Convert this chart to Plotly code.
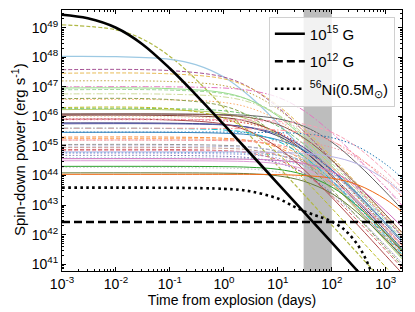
import plotly.graph_objects as go

# ---------------- data (log10 of spin-down power, erg/s) ----------------
t_grid = [0.001, 0.1, 1, 3, 10, 30, 100, 300, 1000, 2000]

magnetar_log_power = [
    [47.58, 47.55, 47.33, 46.98, 46.31, 45.50, 44.51, 43.57, 42.53, 41.93],
    [47.46, 47.44, 47.27, 46.97, 46.37, 45.60, 44.63, 43.70, 42.66, 42.06],
    [47.20, 47.18, 47.04, 46.79, 46.25, 45.51, 44.56, 43.63, 42.59, 41.99],
    [47.00, 47.00, 46.96, 46.88, 46.65, 46.20, 45.44, 44.59, 43.59, 42.99],
    [46.96, 46.94, 46.80, 46.55, 46.01, 45.27, 44.32, 43.39, 42.35, 41.75],
    [46.90, 46.89, 46.77, 46.55, 46.05, 45.34, 44.41, 43.49, 42.45, 41.85],
    [46.76, 46.75, 46.66, 46.48, 46.06, 45.41, 44.50, 43.59, 42.56, 41.96],
    [46.57, 46.56, 46.47, 46.29, 45.87, 45.22, 44.31, 43.40, 42.37, 41.77],
    [46.27, 46.26, 46.19, 46.04, 45.67, 45.07, 44.19, 43.29, 42.26, 41.66],
    [46.23, 46.22, 46.10, 45.88, 45.38, 44.67, 43.74, 42.82, 41.78, 41.18],
    [46.08, 46.08, 46.06, 46.03, 45.92, 45.67, 45.13, 44.39, 43.44, 42.85],
    [46.08, 46.08, 46.04, 45.96, 45.73, 45.28, 44.52, 43.67, 42.67, 42.07],
    [46.04, 46.03, 45.96, 45.81, 45.44, 44.84, 43.96, 43.06, 42.03, 41.43],
    [45.91, 45.90, 45.85, 45.75, 45.47, 44.96, 44.14, 43.27, 42.25, 41.65],
    [45.88, 45.88, 45.87, 45.85, 45.78, 45.60, 45.18, 44.53, 43.62, 43.05],
    [45.78, 45.77, 45.72, 45.62, 45.34, 44.83, 44.01, 43.14, 42.12, 41.52],
    [45.75, 45.75, 45.71, 45.63, 45.40, 44.95, 44.19, 43.34, 42.34, 41.74],
    [45.47, 45.47, 45.47, 45.46, 45.45, 45.41, 45.28, 44.98, 44.38, 43.91],
    [45.46, 45.46, 45.43, 45.38, 45.21, 44.86, 44.19, 43.38, 42.39, 41.80],
    [45.30, 45.30, 45.26, 45.18, 44.95, 44.50, 43.74, 42.89, 41.89, 41.29],
    [45.25, 45.25, 45.22, 45.17, 45.00, 44.65, 43.98, 43.17, 42.18, 41.59],
    [45.20, 45.20, 45.18, 45.15, 45.04, 44.79, 44.25, 43.51, 42.56, 41.97],
    [45.05, 45.05, 45.02, 44.97, 44.80, 44.45, 43.78, 42.97, 41.98, 41.39],
    [45.00, 45.00, 44.98, 44.95, 44.84, 44.59, 44.05, 43.31, 42.36, 41.77],
    [44.95, 44.95, 44.92, 44.87, 44.70, 44.35, 43.68, 42.87, 41.88, 41.29],
    [44.88, 44.88, 44.84, 44.76, 44.53, 44.08, 43.32, 42.47, 41.47, 40.87],
    [44.85, 44.85, 44.83, 44.80, 44.69, 44.44, 43.90, 43.16, 42.21, 41.62],
    [44.80, 44.80, 44.80, 44.80, 44.78, 44.75, 44.64, 44.39, 43.85, 43.40],
    [44.78, 44.78, 44.77, 44.75, 44.68, 44.50, 44.08, 43.43, 42.52, 41.95],
    [44.75, 44.75, 44.73, 44.70, 44.59, 44.34, 43.80, 43.06, 42.11, 41.52],
    [44.68, 44.68, 44.65, 44.60, 44.43, 44.08, 43.41, 42.60, 41.61, 41.02],
    [44.60, 44.60, 44.59, 44.57, 44.50, 44.32, 43.90, 43.25, 42.34, 41.77],
    [44.57, 44.57, 44.56, 44.55, 44.51, 44.41, 44.13, 43.62, 42.80, 42.26],
    [44.50, 44.50, 44.49, 44.47, 44.40, 44.22, 43.80, 43.15, 42.24, 41.67],
    [44.31, 44.31, 44.30, 44.28, 44.21, 44.03, 43.61, 42.96, 42.05, 41.48],
    [44.27, 44.27, 44.25, 44.22, 44.11, 43.86, 43.32, 42.58, 41.63, 41.04],
    [44.09, 44.09, 44.08, 44.06, 43.99, 43.81, 43.39, 42.74, 41.83, 41.26],
    [44.04, 44.04, 44.04, 44.04, 44.03, 44.00, 43.91, 43.69, 43.19, 42.77],
    [46.60, 46.57, 46.35, 46.00, 45.33, 44.52, 43.53, 42.59, 41.55, 40.95],
    [46.30, 46.26, 45.95, 45.50, 44.74, 43.89, 42.89, 41.94, 40.90, 40.30],
    [45.90, 45.88, 45.74, 45.49, 44.95, 44.21, 43.26, 42.33, 41.29, 40.69],
    [45.60, 45.59, 45.54, 45.44, 45.16, 44.65, 43.83, 42.96, 41.94, 41.34],
    [46.00, 45.99, 45.92, 45.77, 45.40, 44.80, 43.92, 43.02, 41.99, 41.39],
    [45.90, 45.90, 45.89, 45.88, 45.84, 45.74, 45.46, 44.95, 44.13, 43.59],
    [45.20, 45.20, 45.20, 45.19, 45.17, 45.12, 44.95, 44.60, 43.93, 43.43],
    [45.60, 45.60, 45.59, 45.58, 45.54, 45.44, 45.16, 44.65, 43.83, 43.29],
]

magnetar_colors = [
    "#a55194", "#e7ba52", "#bd9e39", "#e377c2", "#98df8a", "#a1d99b", "#cedb9c",
    "#fdae6b", "#74c476", "#b5cf6b", "#636363", "#8c564b", "#843c39", "#d62728",
    "#f7b6d2", "#393b79", "#5254a3", "#1f77b4", "#3182bd", "#fd8d3c", "#fdae6b",
    "#ff9896", "#969696", "#bcbddc", "#c49c94", "#d6616b", "#e7969c", "#b8b3e6",
    "#6baed6", "#9c9ede", "#756bb1", "#9edae5", "#ce6dbd", "#de9ed6", "#2ca02c",
    "#c7c7c7", "#637939", "#f16913", "#8ca252", "#bcbd22", "#ad494a", "#17becf",
    "#e7cb94", "#fa9fb5", "#e7969c", "#ff9896",
]

magnetar_styles = [
    "dash", "dash", "dot", "dashdot", "solid", "dash", "dashdot",
    "dot", "dash", "solid", "solid", "solid", "solid", "dot",
    "dot", "solid", "solid", "dot", "solid", "dash", "dash",
    "dash", "dash", "dash", "dash", "dash", "dash", "solid",
    "dot", "dot", "dot", "dot", "solid", "solid", "solid",
    "dot", "solid", "solid", "dash", "dash", "solid", "dashdot",
    "dot", "dash", "dot", "dashdot",
]

olive_t = [0.001, 0.01, 0.03, 0.1, 0.3, 1, 3, 10, 30, 100, 300, 1000]
olive_log_power = [49.10, 48.93, 48.63, 48.03, 47.26, 46.29, 45.36, 44.32, 43.37, 42.32, 41.37, 40.32]

lightblue_t = [0.001, 0.01, 0.1, 0.3, 1, 3, 10, 30, 100, 300, 1000, 2000]
lightblue_log_power = [48.03, 48.02, 47.93, 47.75, 47.33, 46.68, 45.77, 44.86, 43.83, 42.88, 41.84, 41.23]

b15_t = [0.001, 0.003, 0.01, 0.03, 0.1, 0.3, 1, 10, 100, 300, 500]
b15_log_power = [49.44, 49.32, 49.00, 48.46, 47.62, 46.74, 45.72, 43.73, 41.73, 40.77, 40.33]

b12_t = [0.001, 2000]
b12_log_power = [42.43, 42.43]

ni_t = [0.001, 1, 3, 10, 20, 30, 50, 70, 100, 150, 200, 300, 400, 500, 600]
ni_log_power = [43.59, 43.55, 43.47, 43.22, 42.95, 42.80, 42.65, 42.56, 42.44, 42.25, 42.05, 41.66, 41.27, 40.88, 40.49]

band_days = [30, 100]
x_tick_exp = [-3, -2, -1, 0, 1, 2, 3]
y_tick_exp = [41, 42, 43, 44, 45, 46, 47, 48, 49]

# ---------------- figure ----------------
DASHES = {"solid": "solid", "dash": "4px,2px", "dot": "1.5px,2px", "dashdot": "6px,2px,1.5px,2px"}
FONT = "Liberation Sans, Arial"

fig = go.Figure()

def pw(vals):
    return [10.0 ** v for v in vals]

fig.add_trace(go.Scatter(x=olive_t, y=pw(olive_log_power), mode="lines", showlegend=False,
                         line=dict(color="#b0b845", width=1.2, dash=DASHES["dash"], shape="spline")))
fig.add_trace(go.Scatter(x=lightblue_t, y=pw(lightblue_log_power), mode="lines", showlegend=False,
                         line=dict(color="#9dc9e3", width=1.2, shape="spline")))
for vals, col, sty in zip(magnetar_log_power, magnetar_colors, magnetar_styles):
    fig.add_trace(go.Scatter(x=t_grid, y=pw(vals), mode="lines", showlegend=False,
                             line=dict(color=col, width=1.0, dash=DASHES[sty], shape="spline")))

fig.add_trace(go.Scatter(x=b15_t, y=pw(b15_log_power), mode="lines", name="10<sup>15</sup> G",
                         legendgroup="a", line=dict(color="black", width=2.6, shape="spline")))
fig.add_trace(go.Scatter(x=b12_t, y=pw(b12_log_power), mode="lines", name="10<sup>12</sup> G",
                         legendgroup="b", line=dict(color="black", width=2.6, dash="8px,4px")))
fig.add_trace(go.Scatter(x=ni_t, y=pw(ni_log_power), mode="lines",
                         name="<sup>56</sup>Ni(0.5M<sub>⊙</sub>)",
                         legendgroup="c", line=dict(color="black", width=2.6, dash="2.6px,3.4px", shape="spline")))

fig.add_shape(type="rect", xref="x", yref="paper", x0=band_days[0], x1=band_days[1], y0=0, y1=1,
              fillcolor="#bdbdbd", line=dict(width=0), layer="below")

axis_common = dict(
    showline=True, linecolor="black", linewidth=1, mirror="allticks",
    ticks="inside", ticklen=4, tickcolor="black", tickwidth=1,
    showgrid=False, zeroline=False, automargin=False,
    tickfont=dict(family=FONT, size=14, color="black"),
    minor=dict(ticks="inside", ticklen=2, tickcolor="black", dtick="D1", showgrid=False),
)

fig.update_xaxes(type="log", range=[-3, 3.3],
                 tickvals=[10.0 ** e for e in x_tick_exp],
                 ticktext=[f"10<sup>{e}</sup>" for e in x_tick_exp],
                 title=dict(text="Time from explosion (days)", standoff=4,
                            font=dict(family=FONT, size=14, color="black")),
                 **axis_common)
fig.update_yaxes(type="log", range=[40.77, 49.6],
                 tickvals=[10.0 ** e for e in y_tick_exp],
                 ticktext=[f"10<sup>{e}</sup>" for e in y_tick_exp],
                 **axis_common)

fig.add_annotation(text="Spin-down power (erg s<sup>-1</sup>)", textangle=-90,
                   xref="paper", yref="paper", x=-0.128, y=0.465, xanchor="center", yanchor="middle",
                   showarrow=False, font=dict(family=FONT, size=15, color="black"))

# page body has an 8px margin, so the figure is sized/offset to compensate
fig.update_layout(
    width=407, height=304,
    margin=dict(l=54, r=13, t=1.5, b=41.3),
    paper_bgcolor="white", plot_bgcolor="white",
    legend=dict(x=0.979, y=0.975, xanchor="right", yanchor="top",
                bgcolor="rgba(255,255,255,0.8)", bordercolor="#d0d0d0", borderwidth=1,
                font=dict(family=FONT, size=15, color="black"),
                tracegroupgap=5, itemwidth=30),
)

fig.write_html("out.html")
